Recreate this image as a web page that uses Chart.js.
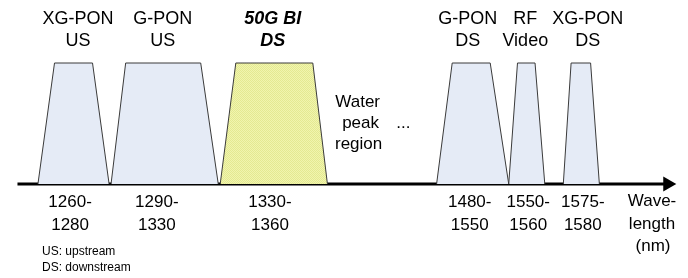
<!DOCTYPE html>
<html>
<head>
<meta charset="utf-8">
<script src="https://cdn.jsdelivr.net/npm/chart.js@4/dist/chart.umd.min.js"></script>
<style>
  html, body { margin: 0; padding: 0; background: #fff; }
  #wrap { width: 688px; height: 278px; position: relative; }
</style>
</head>
<body>
<div id="wrap"><canvas id="myChart"></canvas></div>
<script>
// bands of the wavelength plan (diagram is schematic, x is position along the axis)
const bandNames = [['XG-PON', 'US'], ['G-PON', 'US'], ['50G BI', 'DS'], ['G-PON', 'DS'], ['RF', 'Video'], ['XG-PON', 'DS']];
const bandRanges = [['1260-', '1280'], ['1290-', '1330'], ['1330-', '1360'], ['1480-', '1550'], ['1550-', '1560'], ['1575-', '1580']];
const baseLeft = [30, 105, 217, 439, 513, 569];
const baseRight = [103, 215, 327, 513, 550, 606];
const topLeft = [47, 120, 233, 455, 522, 577];
const topRight = [86, 197, 312, 494, 540, 597];
const highlighted = [false, false, true, false, false, false];
const nameCenters = [71, 158, 271, 471, 530, 594];
const rangeCenters = [63, 152, 268, 473, 533, 589];

document.addEventListener('DOMContentLoaded', () => {
    const canvas = document.getElementById('myChart');

    // dotted yellow fill like the original
    const pc = document.createElement('canvas');
    pc.width = 2; pc.height = 2;
    const pctx = pc.getContext('2d');
    pctx.fillStyle = '#f1f5ae';
    pctx.fillRect(0, 0, 2, 2);
    pctx.fillStyle = '#e4e992';
    pctx.fillRect(0, 0, 1, 1);
    pctx.fillRect(1, 1, 1, 1);
    const yellow = canvas.getContext('2d').createPattern(pc, 'repeat');

    const datasets = bandNames.map((n, i) => ({
        label: n.join(' '),
        data: [
            { x: baseLeft[i], y: 0 },
            { x: topLeft[i], y: 1 },
            { x: topRight[i], y: 1 },
            { x: baseRight[i], y: 0 }
        ],
        showLine: true,
        fill: 'origin',
        backgroundColor: highlighted[i] ? yellow : '#e5ebf6',
        borderColor: '#3a3a3a',
        borderWidth: 1,
        pointRadius: 0,
        tension: 0
    }));

    // wavelength axis with arrow head
    datasets.push({
        label: 'axis',
        data: [{ x: 9, y: 0 }, { x: 676, y: 0 }],
        showLine: true,
        fill: false,
        borderColor: '#000',
        borderWidth: 3,
        pointRadius: [0, 8.7],
        pointStyle: 'triangle',
        rotation: 90,
        pointBackgroundColor: '#000',
        pointBorderColor: '#000',
        pointBorderWidth: 0
    });

    const labelsPlugin = {
        id: 'labels',
        afterDraw(chart) {
            const ctx = chart.ctx;
            const xs = chart.scales.x;
            ctx.save();
            ctx.fillStyle = '#000';
            ctx.textAlign = 'center';
            ctx.textBaseline = 'middle';
            bandNames.forEach((n, i) => {
                ctx.font = highlighted[i] ? 'italic bold 18px "Liberation Sans", Arial, sans-serif'
                                          : '18px "Liberation Sans", Arial, sans-serif';
                const x = xs.getPixelForValue(nameCenters[i]);
                ctx.fillText(n[0], x, 19);
                ctx.fillText(n[1], x, 41);
            });
            ctx.font = '17px "Liberation Sans", Arial, sans-serif';
            bandRanges.forEach((r, i) => {
                const x = xs.getPixelForValue(rangeCenters[i]);
                ctx.fillText(r[0], x, 202);
                ctx.fillText(r[1], x, 225);
            });
            ctx.fillText('Wave-', xs.getPixelForValue(660), 201);
            ctx.fillText('length', xs.getPixelForValue(660), 224);
            ctx.fillText('(nm)', xs.getPixelForValue(661), 246);
            ctx.fillText('Water', xs.getPixelForValue(358), 102);
            ctx.fillText('peak', xs.getPixelForValue(361), 123);
            ctx.fillText('region', xs.getPixelForValue(359), 144);
            ctx.fillText('...', xs.getPixelForValue(405), 123);
            ctx.textAlign = 'left';
            ctx.font = '12px "Liberation Sans", Arial, sans-serif';
            ctx.fillText('US: upstream', 42, 252);
            ctx.fillText('DS: downstream', 42, 268);
            ctx.restore();
        }
    };

    new Chart(canvas, {
        type: 'scatter',
        data: { datasets },
        options: {
            responsive: true,
            maintainAspectRatio: false,
            animation: false,
            layout: { padding: { left: 0, right: 0, top: 63, bottom: 94 } },
            scales: {
                x: { type: 'linear', display: false, min: 0, max: 688 },
                y: { type: 'linear', display: false, min: 0, max: 1 }
            },
            plugins: {
                legend: { display: false },
                tooltip: { enabled: false }
            },
            elements: { line: { borderJoinStyle: 'miter' } },
            clip: false
        },
        plugins: [labelsPlugin]
    });
});
</script>
</body>
</html>
